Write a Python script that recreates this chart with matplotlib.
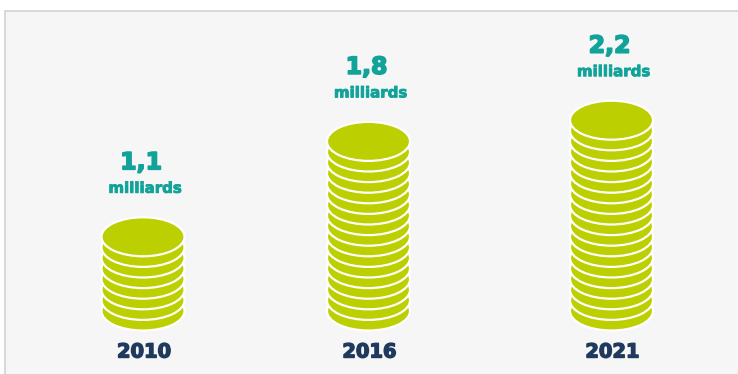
import matplotlib
matplotlib.use("Agg")
import matplotlib.pyplot as plt
import matplotlib.patheffects as pe
from matplotlib.patches import Ellipse, Rectangle

# data
years = ["2010", "2016", "2021"]
values = ["1,1", "1,8", "2,2"]
unit = "milliards"
coins = [8, 17, 19]

# layout (pixel units)
x_pos = [143, 368.5, 611.5]
base_y = 311
coin_step = 10.6
coin_w, coin_h = 83, 39

green = "#bccf00"
teal = "#11a39a"
navy = "#1f3a5c"

plt.rcParams['font.family'] = ['DejaVu Sans']

fig = plt.figure(figsize=(7.38, 3.74), dpi=100)
ax = fig.add_axes([0, 0, 1, 1])
ax.set_xlim(0, 738)
ax.set_ylim(374, 0)
ax.axis('off')

# light panel behind the chart
ax.add_patch(Rectangle((5, 10.5), 740, 370, facecolor="#f6f6f6",
                       edgecolor="#d2d2d2", lw=1.2, zorder=0))


def heavy(color, w=0.9):
    # fake a black weight by stroking the glyphs in their own colour
    return [pe.Stroke(linewidth=w, foreground=color), pe.Normal()]


for x, n, val, yr in zip(x_pos, coins, values, years):
    # stack the coins from the bottom up
    for i in range(n):
        ax.add_patch(Ellipse((x, base_y - i * coin_step), coin_w, coin_h,
                             facecolor=green, edgecolor="white", lw=1.6, zorder=2))
    top = base_y - (n - 1) * coin_step - coin_h / 2
    ax.text(x - 2, top - 55, val, ha='center', va='center', color=teal,
            fontsize=17, fontweight='bold', path_effects=heavy(teal, 1.2))
    ax.text(x + 2, top - 29, unit, ha='center', va='center', color=teal,
            fontsize=10.8, fontweight='bold', path_effects=heavy(teal, 0.6))
    ax.text(x + 1, 352, yr, ha='center', va='center', color=navy,
            fontsize=14, fontweight='bold', path_effects=heavy(navy, 1.0))

fig.savefig("out.png", dpi=100)
